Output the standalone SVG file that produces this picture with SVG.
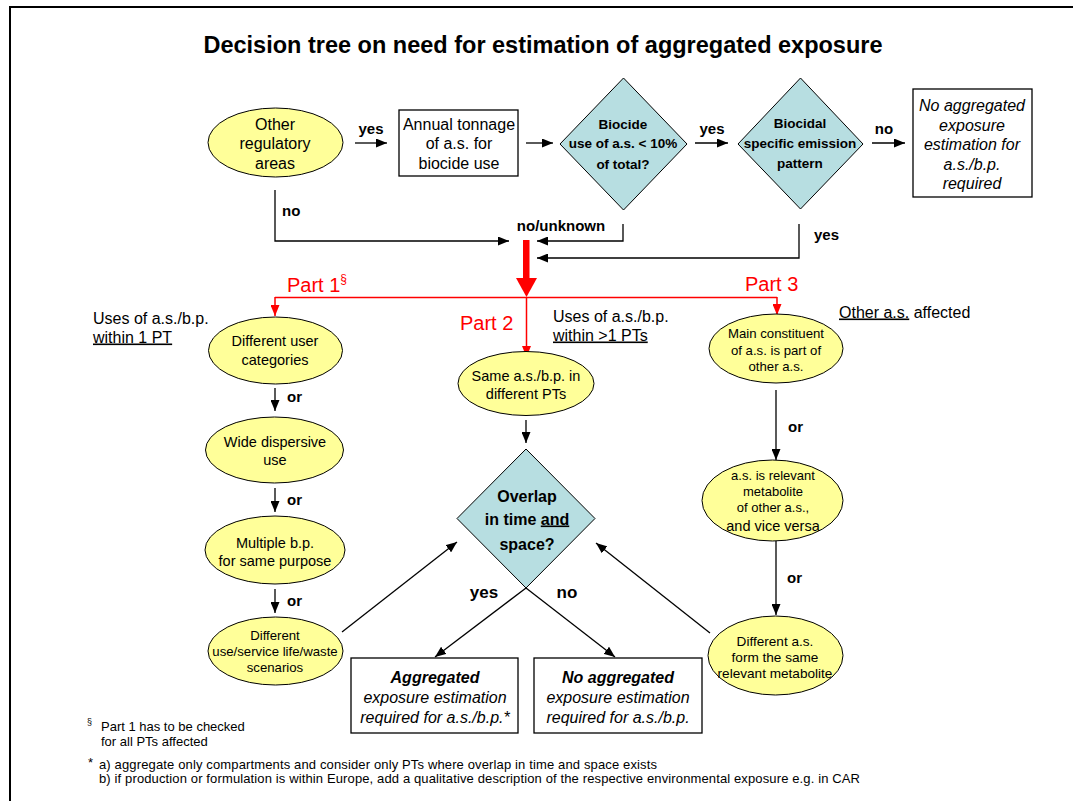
<svg xmlns="http://www.w3.org/2000/svg" width="1073" height="801" viewBox="0 0 1073 801">
<style>
text{font-family:"Liberation Sans",Arial,sans-serif;fill:#000}
.t16{font-size:16px}
.t15{font-size:15px}
.t14{font-size:14.5px}
.t13{font-size:13px}
.t12{font-size:13.2px}
.dt{font-size:13.5px;font-weight:bold}
.lb{font-size:15px;font-weight:bold}
.b{font-weight:bold}
.i{font-style:italic}
.c{text-anchor:middle}
.red{fill:#FF0000;font-size:20px}
.ell{fill:#FFFF99;stroke:#000;stroke-width:1}
.dia{fill:#B7DEE1;stroke:#000;stroke-width:1}
.box{fill:#fff;stroke:#000;stroke-width:1.3}
.ln{fill:none;stroke:#000;stroke-width:1.3}
.rl{fill:none;stroke:#FF0000;stroke-width:1.5}
.u{text-decoration:underline}
</style>
<defs>
<marker id="a" markerUnits="userSpaceOnUse" markerWidth="11" markerHeight="9" refX="11" refY="4.5" orient="auto"><path d="M0,0 L11,4.5 L0,9 z" fill="#000"/></marker>
<marker id="r" markerUnits="userSpaceOnUse" markerWidth="11" markerHeight="9" refX="11" refY="4.5" orient="auto"><path d="M0,0 L11,4.5 L0,9 z" fill="#FF0000"/></marker>
</defs>
<rect width="1073" height="801" fill="#fff"/>
<path d="M10,801 V7 H1073" fill="none" stroke="#000" stroke-width="2"/>
<text x="543" y="53" class="c b" style="font-size:23.5px">Decision tree on need for estimation of aggregated exposure</text>

<g id="connectors">
<path class="ln" d="M355,143 H387" marker-end="url(#a)"/>
<path class="ln" d="M526,143 H553" marker-end="url(#a)"/>
<path class="ln" d="M695,143 H728" marker-end="url(#a)"/>
<path class="ln" d="M872,143 H905" marker-end="url(#a)"/>
<path class="ln" d="M275,190 V241 H509" marker-end="url(#a)"/>
<path class="ln" d="M623,224 V241 H537" marker-end="url(#a)"/>
<path class="ln" d="M799,224 V258 H537" marker-end="url(#a)"/>
<rect x="523" y="240" width="6.5" height="39" fill="#FF0000"/>
<path d="M516,278 H537 L526.5,297 z" fill="#FF0000"/>
<path class="rl" d="M275,297.5 H777"/>
<path class="rl" d="M275,297 V316" marker-end="url(#r)"/>
<path class="rl" d="M526.5,297 V357" marker-end="url(#r)"/>
<path class="rl" d="M777,297 V315" marker-end="url(#r)"/>
<path class="ln" d="M275,388 V411" marker-end="url(#a)"/>
<path class="ln" d="M275,488 V512" marker-end="url(#a)"/>
<path class="ln" d="M275,589 V613" marker-end="url(#a)"/>
<path class="ln" d="M526,420 V443" marker-end="url(#a)"/>
<path class="ln" d="M342,632 L457,542" marker-end="url(#a)"/>
<path class="ln" d="M526,588 L435,657" marker-end="url(#a)"/>
<path class="ln" d="M526,588 L615,657" marker-end="url(#a)"/>
<path class="ln" d="M776,390 V460" marker-end="url(#a)"/>
<path class="ln" d="M776,541 V615" marker-end="url(#a)"/>
<path class="ln" d="M710,633 L596,543" marker-end="url(#a)"/>
<text x="371" y="134" class="lb c">yes</text>
<text x="712" y="134" class="lb c">yes</text>
<text x="884" y="134" class="lb c">no</text>
<text x="282" y="216" class="lb">no</text>
<text x="561" y="231" class="lb c">no/unknown</text>
<text x="814" y="240" class="lb">yes</text>
<text x="287" y="292" class="red">Part 1<tspan style="font-size:12px" dy="-9">§</tspan></text>
<text x="460" y="330" class="red">Part 2</text>
<text x="745" y="291" class="red">Part 3</text>
<text x="287" y="402" class="lb">or</text>
<text x="287" y="505" class="lb">or</text>
<text x="287" y="606" class="lb">or</text>
<text x="788" y="432" class="lb">or</text>
<text x="787" y="583" class="lb">or</text>
<text x="484" y="598" class="b c" style="font-size:17px">yes</text>
<text x="567" y="598" class="b c" style="font-size:17px">no</text>
</g>

<g id="n-other">
<ellipse class="ell" cx="275.5" cy="142.5" rx="67.5" ry="34.5"/>
<text class="t16 c" x="275" y="129.5">Other</text>
<text class="t16 c" x="275" y="148.5">regulatory</text>
<text class="t16 c" x="275" y="168.5">areas</text>
</g>
<g id="n-annual">
<rect class="box" x="399" y="110" width="119" height="66"/>
<text class="t16 c" x="459" y="129.5">Annual tonnage</text>
<text class="t16 c" x="459" y="148.5">of a.s. for</text>
<text class="t16 c" x="459" y="168.5">biocide use</text>
</g>
<g id="n-biocide">
<path class="dia" d="M560,144 L623.5,78 L687,144 L623.5,210 z"/>
<text class="dt c" x="623" y="129">Biocide</text>
<text class="dt c" x="623" y="148">use of a.s. &lt; 10%</text>
<text class="dt c" x="623" y="169">of total?</text>
</g>
<g id="n-biocidal">
<path class="dia" d="M738,144 L800.5,78 L863,144 L800.5,209 z"/>
<text class="dt c" x="800" y="128">Biocidal</text>
<text class="dt c" x="800" y="148">specific emission</text>
<text class="dt c" x="800" y="168">pattern</text>
</g>
<g id="n-noagg-top">
<rect class="box" x="913" y="89" width="119" height="108"/>
<text class="t16 i c" x="972" y="110.5">No aggregated</text>
<text class="t16 i c" x="972" y="130.5">exposure</text>
<text class="t16 i c" x="972" y="149.5">estimation for</text>
<text class="t16 i c" x="972" y="169.5">a.s./b.p.</text>
<text class="t16 i c" x="972" y="188.5">required</text>
</g>

<g id="l-part1">
<text class="t16" x="93" y="323.5">Uses of a.s./b.p.</text>
<text class="t16 u" x="93" y="342.5">within 1 PT</text>
</g>
<g id="l-part2">
<text class="t16" x="553" y="321.5">Uses of a.s./b.p.</text>
<text class="t16 u" x="553" y="340.5">within &gt;1 PTs</text>
</g>
<g id="l-part3">
<text class="t16" x="839" y="317.5"><tspan class="u">Other a.s.</tspan> affected</text>
</g>

<g id="n-user">
<ellipse class="ell" cx="275.5" cy="350.5" rx="67" ry="33.5"/>
<text class="t14 c" x="275" y="345.5">Different user</text>
<text class="t14 c" x="275" y="364.5">categories</text>
</g>
<g id="n-wide">
<ellipse class="ell" cx="274.5" cy="450" rx="69" ry="33"/>
<text class="t14 c" x="275" y="446.5">Wide dispersive</text>
<text class="t14 c" x="275" y="464.5">use</text>
</g>
<g id="n-multiple">
<ellipse class="ell" cx="275" cy="550" rx="70" ry="34"/>
<text class="t14 c" x="275" y="547.5">Multiple b.p.</text>
<text class="t14 c" x="275" y="565.5">for same purpose</text>
</g>
<g id="n-scen">
<ellipse class="ell" cx="275.5" cy="651" rx="67.5" ry="34"/>
<text class="t12 c" x="275" y="639.5">Different</text>
<text class="t12 c" x="275" y="655.5">use/service life/waste</text>
<text class="t12 c" x="275" y="671.5">scenarios</text>
</g>

<g id="n-same">
<ellipse class="ell" cx="526" cy="383.5" rx="68" ry="32"/>
<text class="t14 c" x="526" y="380.5">Same a.s./b.p. in</text>
<text class="t14 c" x="526" y="398.5">different PTs</text>
</g>
<g id="n-overlap">
<path class="dia" d="M457,518.5 L526,449 L595,518.5 L526,588 z"/>
<text class="t16 b c" x="527" y="501.5">Overlap</text>
<text class="t16 b c" x="527" y="524.5">in time <tspan class="u">and</tspan></text>
<text class="t16 b c" x="527" y="549.5">space?</text>
</g>
<g id="n-agg">
<rect class="box" x="351" y="658" width="167" height="75"/>
<text class="t16 b i c" x="435" y="682.5">Aggregated</text>
<text class="t16 i c" x="435" y="702.5">exposure estimation</text>
<text class="t16 i c" x="435" y="722.5">required for a.s./b.p.*</text>
</g>
<g id="n-noagg">
<rect class="box" x="534" y="658" width="168" height="75"/>
<text class="t16 b i c" x="618" y="682.5">No aggregated</text>
<text class="t16 i c" x="618" y="702.5">exposure estimation</text>
<text class="t16 i c" x="618" y="722.5">required for a.s./b.p.</text>
</g>

<g id="n-main">
<ellipse class="ell" cx="776" cy="348.5" rx="67" ry="34.5"/>
<text class="t12 c" x="776" y="337.5">Main constituent</text>
<text class="t12 c" x="776" y="354.5">of a.s. is part of</text>
<text class="t12 c" x="776" y="370.5">other a.s.</text>
</g>
<g id="n-metab">
<ellipse class="ell" cx="772.5" cy="500.5" rx="70.5" ry="40.5"/>
<text class="t13 c" x="773" y="480">a.s. is relevant</text>
<text class="t13 c" x="773" y="496">metabolite</text>
<text class="t13 c" x="773" y="512">of other a.s.,</text>
<text class="c" style="font-size:14.5px" x="773" y="531">and vice versa</text>
</g>
<g id="n-same-metab">
<ellipse class="ell" cx="775.5" cy="655.5" rx="67.5" ry="39.5"/>
<text class="t13 c" x="775" y="645.5" style="font-size:13.6px">Different a.s.</text>
<text class="t13 c" x="775" y="661.5" style="font-size:13.6px">form the same</text>
<text class="t13 c" x="775" y="677.5" style="font-size:13.6px">relevant metabolite</text>
</g>

<g id="footnotes">
<text x="87" y="725" style="font-size:9px">§</text>
<text class="t13" x="101" y="730.5">Part 1 has to be checked</text>
<text class="t13" x="101" y="745.5">for all PTs affected</text>
<text x="88" y="767" style="font-size:13px">*</text>
<text class="t13" x="99" y="768.5" textLength="558">a) aggregate only compartments and consider only PTs where overlap in time and space exists</text>
<text class="t13" x="99" y="782.5" textLength="761">b) if production or formulation is within Europe, add a qualitative description of the respective environmental exposure e.g. in CAR</text>
</g>
</svg>
